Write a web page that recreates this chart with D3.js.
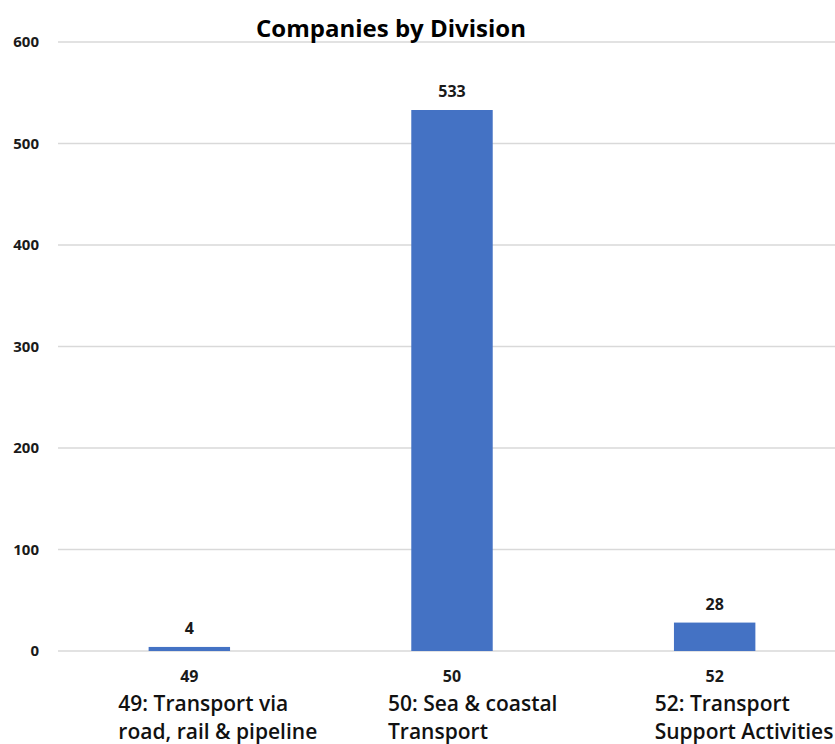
<!DOCTYPE html>
<html>
<head>
<meta charset="utf-8">
<script src="https://cdn.jsdelivr.net/npm/d3@7"></script>
<style>
  html, body { margin: 0; padding: 0; background: #fff; }
  svg { display: block; }
</style>
</head>
<body>
<svg id="chart" width="835" height="744"></svg>
<script>
// Companies per division
const categories = ["49", "50", "52"];
const counts = [4, 533, 28];
const descriptions = [
  ["49: Transport via", "road, rail & pipeline"],
  ["50: Sea & coastal", "Transport"],
  ["52: Transport", "Support Activities"]
];
const yTicks = [0, 100, 200, 300, 400, 500, 600];
const title = "Companies by Division";

const svg = d3.select("#chart");
const font = "'Open Sans', 'Noto Sans', sans-serif";

const plot = { left: 58, right: 846, top: 42, bottom: 651 };

const x = d3.scaleBand()
  .domain(categories)
  .range([plot.left, plot.right])
  .paddingInner(0.69)
  .paddingOuter(0.345);

const y = d3.scaleLinear()
  .domain([0, 600])
  .range([plot.bottom, plot.top]);

// Horizontal gridlines
svg.append("g")
  .selectAll("line")
  .data(yTicks)
  .join("line")
  .attr("x1", plot.left)
  .attr("x2", plot.right)
  .attr("y1", d => y(d))
  .attr("y2", d => y(d))
  .attr("stroke", "#d9d9d9")
  .attr("stroke-width", 1.5);

// Y axis labels
svg.append("g")
  .selectAll("text")
  .data(yTicks)
  .join("text")
  .attr("x", 39)
  .attr("y", d => y(d))
  .attr("dy", "0.36em")
  .attr("text-anchor", "end")
  .attr("font-family", font)
  .attr("font-weight", 700)
  .attr("font-size", 15)
  .attr("fill", "#1a1a1a")
  .text(d => d);

const rows = categories.map((c, i) => ({ cat: c, value: counts[i], desc: descriptions[i] }));

// Bars
svg.append("g")
  .selectAll("rect")
  .data(rows)
  .join("rect")
  .attr("x", d => x(d.cat))
  .attr("width", x.bandwidth())
  .attr("y", d => y(d.value))
  .attr("height", d => y(0) - y(d.value))
  .attr("fill", "#4472c4");

// Value labels
svg.append("g")
  .selectAll("text")
  .data(rows)
  .join("text")
  .attr("x", d => x(d.cat) + x.bandwidth() / 2)
  .attr("y", d => y(d.value) - 13)
  .attr("text-anchor", "middle")
  .attr("font-family", font)
  .attr("font-weight", 700)
  .attr("font-size", 16)
  .attr("fill", "#1a1a1a")
  .text(d => d.value);

// Category tick labels
svg.append("g")
  .selectAll("text")
  .data(rows)
  .join("text")
  .attr("x", d => x(d.cat) + x.bandwidth() / 2)
  .attr("y", 682)
  .attr("text-anchor", "middle")
  .attr("font-family", font)
  .attr("font-weight", 700)
  .attr("font-size", 16)
  .attr("fill", "#1a1a1a")
  .text(d => d.cat);

// Division descriptions, two lines under each tick
const descShift = [-71, -64, -60];
const desc = svg.append("g")
  .selectAll("text")
  .data(rows)
  .join("text")
  .attr("font-family", font)
  .attr("font-weight", 600)
  .attr("font-size", 21)
  .attr("fill", "#111");
desc.each(function(d, i) {
  const cx = x(d.cat) + x.bandwidth() / 2 + descShift[i];
  d3.select(this).selectAll("tspan")
    .data(d.desc)
    .join("tspan")
    .attr("x", cx)
    .attr("y", (t, j) => 711 + j * 28)
    .text(t => t);
});

// Title
svg.append("text")
  .attr("x", 391)
  .attr("y", 37)
  .attr("text-anchor", "middle")
  .attr("font-family", font)
  .attr("font-weight", 700)
  .attr("font-size", 24)
  .attr("fill", "#000")
  .text(title);
</script>
</body>
</html>
